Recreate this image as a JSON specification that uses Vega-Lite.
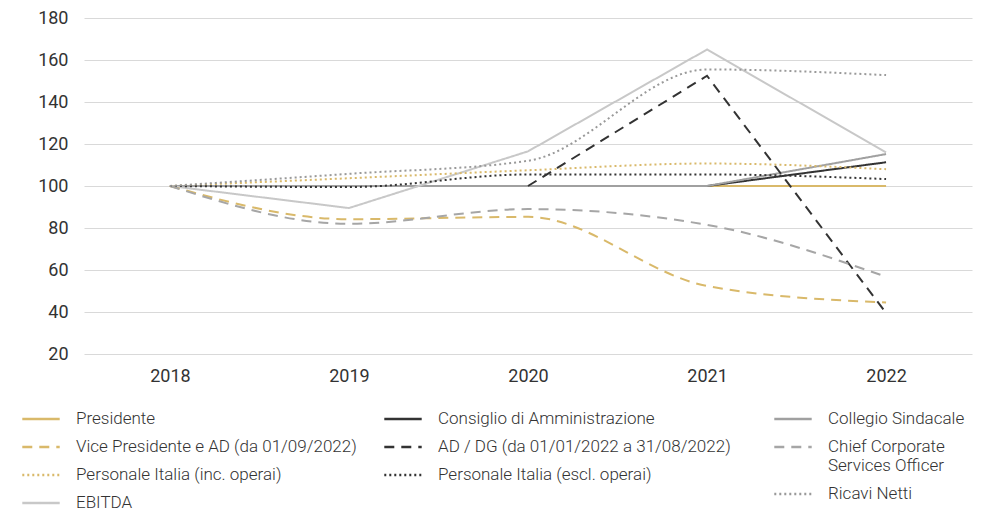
{
  "$schema": "https://vega.github.io/schema/vega-lite/v6.json",
  "width": 888,
  "height": 336,
  "autosize": {"type": "none"},
  "padding": {"left": 84, "top": 18, "right": 12, "bottom": 157},
  "config": {
    "view": {"stroke": null},
    "font": "Roboto",
    "legend": {
      "title": null,
      "orient": "none",
      "padding": 0,
      "symbolType": "stroke",
      "symbolSize": 1400,
      "symbolStrokeWidth": 2.5,
      "labelFont": "Roboto",
      "labelFontSize": 17,
      "labelFontWeight": 300,
      "labelColor": "#333333",
      "labelOffset": 15,
      "rowPadding": -7.5,
      "labelLimit": 400
    }
  },
  "data": {
    "values": [
      {"anno": "2018", "serie": "Presidente", "valore": 100},
      {"anno": "2019", "serie": "Presidente", "valore": 100},
      {"anno": "2020", "serie": "Presidente", "valore": 100},
      {"anno": "2021", "serie": "Presidente", "valore": 100},
      {"anno": "2022", "serie": "Presidente", "valore": 100},
      {"anno": "2018", "serie": "Consiglio di Amministrazione", "valore": 100},
      {"anno": "2019", "serie": "Consiglio di Amministrazione", "valore": 100},
      {"anno": "2020", "serie": "Consiglio di Amministrazione", "valore": 100},
      {"anno": "2021", "serie": "Consiglio di Amministrazione", "valore": 100},
      {"anno": "2022", "serie": "Consiglio di Amministrazione", "valore": 111.3},
      {"anno": "2018", "serie": "Collegio Sindacale", "valore": 100},
      {"anno": "2019", "serie": "Collegio Sindacale", "valore": 100},
      {"anno": "2020", "serie": "Collegio Sindacale", "valore": 100},
      {"anno": "2021", "serie": "Collegio Sindacale", "valore": 100},
      {"anno": "2022", "serie": "Collegio Sindacale", "valore": 115.2},
      {"anno": "2018", "serie": "EBITDA", "valore": 100},
      {"anno": "2019", "serie": "EBITDA", "valore": 89.5},
      {"anno": "2020", "serie": "EBITDA", "valore": 116.5},
      {"anno": "2021", "serie": "EBITDA", "valore": 165},
      {"anno": "2022", "serie": "EBITDA", "valore": 116},
      {"anno": "2020", "serie": "AD / DG (da 01/01/2022 a 31/08/2022)", "valore": 100},
      {"anno": "2021", "serie": "AD / DG (da 01/01/2022 a 31/08/2022)", "valore": 152.5},
      {"anno": "2022", "serie": "AD / DG (da 01/01/2022 a 31/08/2022)", "valore": 39.5},
      {"anno": "2018", "serie": "Vice Presidente e AD (da 01/09/2022)", "valore": 100},
      {"anno": "2019", "serie": "Vice Presidente e AD (da 01/09/2022)", "valore": 84.2},
      {"anno": "2020", "serie": "Vice Presidente e AD (da 01/09/2022)", "valore": 85.3},
      {"anno": "2021", "serie": "Vice Presidente e AD (da 01/09/2022)", "valore": 52.4},
      {"anno": "2022", "serie": "Vice Presidente e AD (da 01/09/2022)", "valore": 44.5},
      {"anno": "2018", "serie": "Chief Corporate Services Officer", "valore": 100},
      {"anno": "2019", "serie": "Chief Corporate Services Officer", "valore": 82},
      {"anno": "2020", "serie": "Chief Corporate Services Officer", "valore": 89},
      {"anno": "2021", "serie": "Chief Corporate Services Officer", "valore": 81.5},
      {"anno": "2022", "serie": "Chief Corporate Services Officer", "valore": 56.8},
      {"anno": "2018", "serie": "Personale Italia (inc. operai)", "valore": 100},
      {"anno": "2019", "serie": "Personale Italia (inc. operai)", "valore": 103.7},
      {"anno": "2020", "serie": "Personale Italia (inc. operai)", "valore": 107.5},
      {"anno": "2021", "serie": "Personale Italia (inc. operai)", "valore": 110.7},
      {"anno": "2022", "serie": "Personale Italia (inc. operai)", "valore": 108},
      {"anno": "2018", "serie": "Personale Italia (escl. operai)", "valore": 100},
      {"anno": "2019", "serie": "Personale Italia (escl. operai)", "valore": 99.5},
      {"anno": "2020", "serie": "Personale Italia (escl. operai)", "valore": 105.5},
      {"anno": "2021", "serie": "Personale Italia (escl. operai)", "valore": 105.5},
      {"anno": "2022", "serie": "Personale Italia (escl. operai)", "valore": 103.3},
      {"anno": "2018", "serie": "Ricavi Netti", "valore": 100},
      {"anno": "2019", "serie": "Ricavi Netti", "valore": 105.8},
      {"anno": "2020", "serie": "Ricavi Netti", "valore": 112},
      {"anno": "2021", "serie": "Ricavi Netti", "valore": 155.5},
      {"anno": "2022", "serie": "Ricavi Netti", "valore": 152.8}
    ]
  },
  "encoding": {
    "x": {
      "field": "anno",
      "type": "ordinal",
      "scale": {"type": "point", "padding": 0.48},
      "axis": {
        "title": null,
        "labelAngle": 0,
        "domain": false,
        "ticks": false,
        "grid": false,
        "labelFont": "Roboto",
        "labelFontSize": 18,
        "labelColor": "#333333",
        "labelPadding": 13
      }
    },
    "y": {
      "field": "valore",
      "type": "quantitative",
      "scale": {"domain": [20, 180], "nice": false, "zero": false},
      "axis": {
        "title": null,
        "values": [20, 40, 60, 80, 100, 120, 140, 160, 180],
        "domain": false,
        "ticks": false,
        "grid": true,
        "gridColor": "#d9d9d9",
        "gridWidth": 1,
        "labelFont": "Roboto",
        "labelFontSize": 18,
        "labelColor": "#333333",
        "labelPadding": 16
      }
    }
  },
  "layer": [
    {
      "transform": [{"filter": {"field": "serie", "oneOf": ["Presidente", "Consiglio di Amministrazione", "Collegio Sindacale", "EBITDA", "AD / DG (da 01/01/2022 a 31/08/2022)"]}}],
      "mark": {"type": "line", "strokeWidth": 2, "interpolate": "linear"},
      "encoding": {
        "color": {
          "field": "serie", "type": "nominal", "legend": null,
          "scale": {"domain": ["Presidente", "Consiglio di Amministrazione", "Collegio Sindacale", "EBITDA", "AD / DG (da 01/01/2022 a 31/08/2022)"],
                    "range": ["#D9B96A", "#333333", "#A0A0A0", "#C8C8C8", "#333333"]}
        },
        "strokeDash": {
          "field": "serie", "type": "nominal", "legend": null,
          "scale": {"domain": ["Presidente", "Consiglio di Amministrazione", "Collegio Sindacale", "EBITDA", "AD / DG (da 01/01/2022 a 31/08/2022)"],
                    "range": [[1, 0], [1, 0], [1, 0], [1, 0], [10, 7]]}
        }
      }
    },
    {
      "transform": [{"filter": {"field": "serie", "oneOf": ["Vice Presidente e AD (da 01/09/2022)", "Chief Corporate Services Officer", "Personale Italia (inc. operai)", "Personale Italia (escl. operai)", "Ricavi Netti"]}}],
      "mark": {"type": "line", "strokeWidth": 2, "interpolate": "monotone"},
      "encoding": {
        "color": {
          "field": "serie", "type": "nominal", "legend": null,
          "scale": {"domain": ["Vice Presidente e AD (da 01/09/2022)", "Chief Corporate Services Officer", "Personale Italia (inc. operai)", "Personale Italia (escl. operai)", "Ricavi Netti"],
                    "range": ["#D9B96A", "#A6A6A6", "#D9B96A", "#333333", "#999999"]}
        },
        "strokeDash": {
          "field": "serie", "type": "nominal", "legend": null,
          "scale": {"domain": ["Vice Presidente e AD (da 01/09/2022)", "Chief Corporate Services Officer", "Personale Italia (inc. operai)", "Personale Italia (escl. operai)", "Ricavi Netti"],
                    "range": [[10, 7], [10, 7], [2, 3], [2, 3], [2, 3]]}
        }
      }
    },
    {
      "transform": [
        {"filter": {"field": "anno", "equal": "2022"}},
        {"filter": {"field": "serie", "oneOf": ["Presidente", "Vice Presidente e AD (da 01/09/2022)", "Personale Italia (inc. operai)", "EBITDA"]}}
      ],
      "mark": {"type": "line", "strokeWidth": 2},
      "encoding": {
        "color": {
          "field": "serie", "type": "nominal",
          "scale": {"domain": ["Presidente", "Vice Presidente e AD (da 01/09/2022)", "Personale Italia (inc. operai)", "EBITDA"],
                    "range": ["#D9B96A", "#D9B96A", "#D9B96A", "#C8C8C8"]},
          "legend": {"orient": "none", "legendX": -63, "legendY": 381}
        },
        "strokeDash": {
          "field": "serie", "type": "nominal",
          "scale": {"domain": ["Presidente", "Vice Presidente e AD (da 01/09/2022)", "Personale Italia (inc. operai)", "EBITDA"],
                    "range": [[1, 0], [10, 7], [2, 3], [1, 0]]},
          "legend": {"orient": "none", "legendX": -63, "legendY": 381}
        }
      }
    },
    {
      "transform": [
        {"filter": {"field": "anno", "equal": "2022"}},
        {"filter": {"field": "serie", "oneOf": ["Consiglio di Amministrazione", "AD / DG (da 01/01/2022 a 31/08/2022)", "Personale Italia (escl. operai)"]}}
      ],
      "mark": {"type": "line", "strokeWidth": 2},
      "encoding": {
        "color": {
          "field": "serie", "type": "nominal",
          "scale": {"domain": ["Consiglio di Amministrazione", "AD / DG (da 01/01/2022 a 31/08/2022)", "Personale Italia (escl. operai)"],
                    "range": ["#333333", "#333333", "#333333"]},
          "legend": {"orient": "none", "legendX": 299, "legendY": 381}
        },
        "strokeDash": {
          "field": "serie", "type": "nominal",
          "scale": {"domain": ["Consiglio di Amministrazione", "AD / DG (da 01/01/2022 a 31/08/2022)", "Personale Italia (escl. operai)"],
                    "range": [[1, 0], [10, 7], [2, 3]]},
          "legend": {"orient": "none", "legendX": 299, "legendY": 381}
        }
      }
    },
    {
      "transform": [
        {"filter": {"field": "anno", "equal": "2022"}},
        {"filter": {"field": "serie", "oneOf": ["Collegio Sindacale", "Chief Corporate Services Officer", "Ricavi Netti"]}}
      ],
      "mark": {"type": "line", "strokeWidth": 2},
      "encoding": {
        "color": {
          "field": "serie", "type": "nominal",
          "scale": {"domain": ["Collegio Sindacale", "Chief Corporate Services Officer", "Ricavi Netti"],
                    "range": ["#A0A0A0", "#A6A6A6", "#999999"]},
          "legend": {"orient": "none", "legendX": 689, "legendY": 381,
                     "labelExpr": "datum.label == 'Chief Corporate Services Officer' ? ['Chief Corporate', 'Services Officer'] : datum.label"}
        },
        "strokeDash": {
          "field": "serie", "type": "nominal",
          "scale": {"domain": ["Collegio Sindacale", "Chief Corporate Services Officer", "Ricavi Netti"],
                    "range": [[1, 0], [10, 7], [2, 3]]},
          "legend": {"orient": "none", "legendX": 689, "legendY": 381,
                     "labelExpr": "datum.label == 'Chief Corporate Services Officer' ? ['Chief Corporate', 'Services Officer'] : datum.label"}
        }
      }
    }
  ],
  "resolve": {"scale": {"color": "independent", "strokeDash": "independent"}}
}
